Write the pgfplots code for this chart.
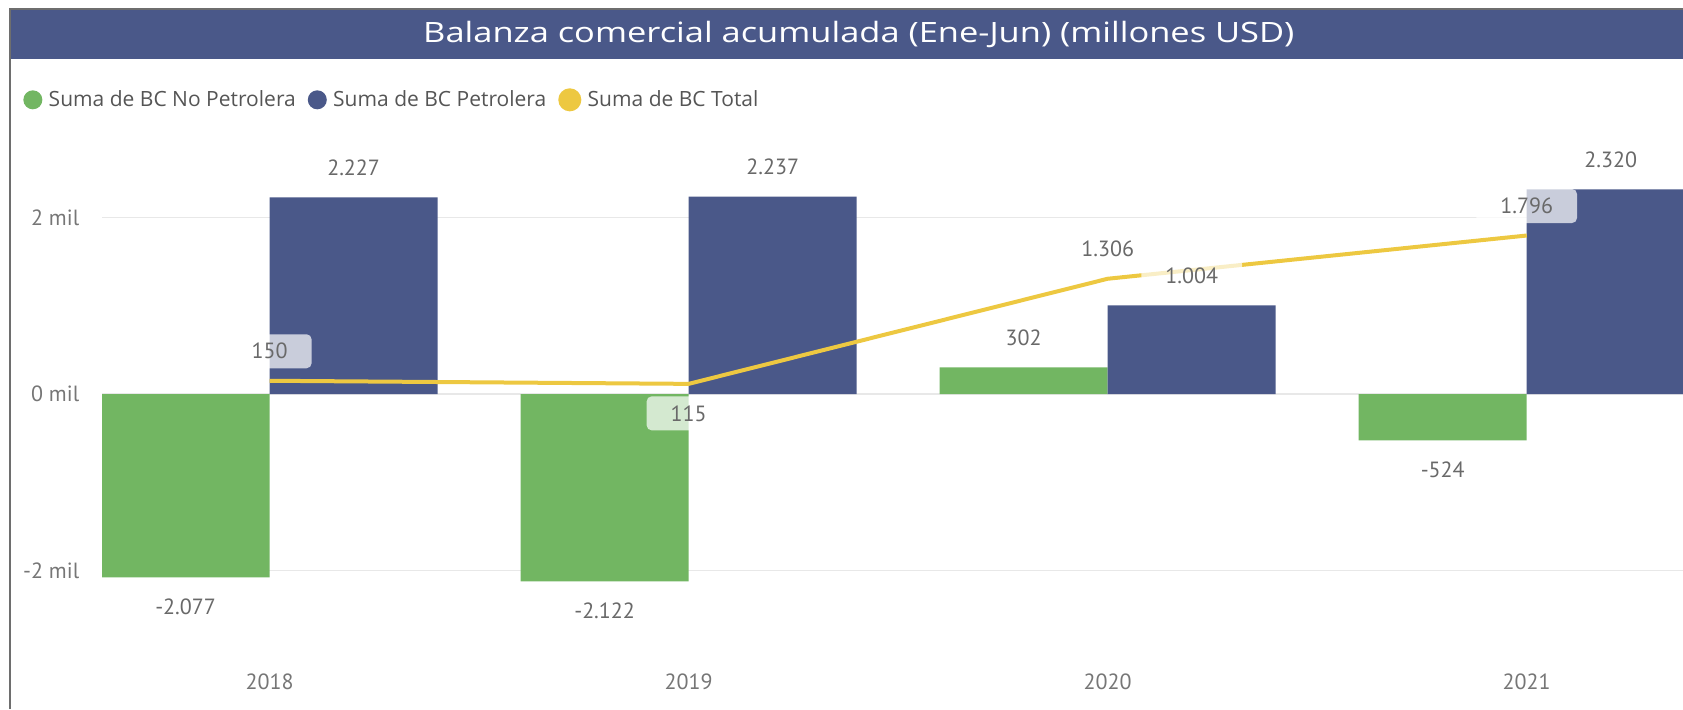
\documentclass[border=0pt]{standalone}
\usepackage{pgfplots}
\pgfplotsset{compat=1.18}
\usepackage{pgfplotstable}
\usepackage{fontspec}
\setmainfont{Open Sans}
\newfontfamily\titlefont{Open Sans}[FakeStretch=1.23]
\newfontfamily\numfont{PT Sans}

\definecolor{greenc}{RGB}{114,182,98}
\definecolor{bluec}{RGB}{74,88,137}
\definecolor{yellowc}{RGB}{237,200,65}
\definecolor{labgray}{RGB}{105,105,105}
\definecolor{ticgray}{RGB}{118,118,118}
\definecolor{leggray}{RGB}{85,85,85}
\definecolor{gridc}{RGB}{232,232,232}
\definecolor{framec}{RGB}{110,110,110}

% values in millones USD; off* = label offset (pt) from bar end / point
\pgfplotstableread{
x nopet pet total offno offpet offtot
0 -2077 2227 150 -14.75 14.75 14.75
1 -2122 2237 115 -14.75 14.75 -14.75
2 302 1004 1306 14.75 14.75 14.75
3 -524 2320 1796 -14.75 14.75 14.75
}\bcdata

\tikzset{lab/.style={anchor=center, yshift=\off, fill=white, fill opacity=0.7, text opacity=1,
  text=labgray, rounded corners=2.5pt, inner xsep=12pt, inner ysep=0pt, minimum height=17pt,
  font=\numfont\fontsize{11}{13}\selectfont}}

\begin{document}
\begin{tikzpicture}
\path[use as bounding box] (0,0) rectangle (841.5pt,354.5pt);
\fill[bluec] (5.5pt,324.8pt) rectangle (841.5pt,349.5pt);
\draw[framec, line width=1pt] (4.75pt,0pt) -- (4.75pt,349.8pt) -- (841.5pt,349.8pt);
\node[anchor=base, text=white, font=\titlefont\fontsize{14}{17}\selectfont, inner sep=0pt]
  at (429.4pt,333.35pt) {Balanza comercial acumulada (Ene-Jun) (millones USD)};
\begin{axis}[
  at={(51pt,25.125pt)}, anchor=south west,
  scale only axis, width=790.5pt, height=264.75pt,
  xmin=-0.4, xmax=3.373, ymin=-3000, ymax=3000,
  axis line style={draw=none}, tick style={draw=none},
  ytick={-2000,0,2000}, yticklabels={-2 mil,0 mil,2 mil},
  xtick={0,1,2,3}, xticklabels={2018,2019,2020,2021},
  ymajorgrids, grid style={gridc, line width=0.85pt},
  yticklabel style={anchor=east, inner sep=0pt, xshift=-11.2pt, font=\numfont\fontsize{11}{13}\selectfont, text=ticgray},
  xticklabel style={anchor=center, inner sep=0pt, yshift=-11.6pt, font=\numfont\fontsize{11}{13}\selectfont, text=ticgray},
  legend columns=3,
  legend style={at={(-0.05,1.0556)}, anchor=west, draw=none, fill=none, inner sep=0pt,
    font=\fontsize{10.5}{12}\selectfont, text=leggray,
    /tikz/every odd column/.append style={column sep=1.2pt},
    /tikz/every even column/.append style={column sep=4pt}},
  /pgf/number format/fixed, /pgf/number format/precision=0,
  /pgf/number format/1000 sep={.}, /pgf/number format/assume math mode=true,
]
\addplot[ybar, bar width=84pt, bar shift=-42pt, fill=greenc, draw=none,
  legend image code/.code={\fill[greenc] (4.75pt,0pt) circle (4.75pt);}]
  table[x=x, y=nopet] {\bcdata};
\addlegendentry{Suma de BC No Petrolera}
\addplot[ybar, bar width=84pt, bar shift=42pt, fill=bluec, draw=none,
  legend image code/.code={\fill[bluec] (4.75pt,0pt) circle (4.75pt);}]
  table[x=x, y=pet] {\bcdata};
\addlegendentry{Suma de BC Petrolera}
\addplot[yellowc, line width=2pt, line join=round, mark=none,
  legend image code/.code={\fill[yellowc] (4.75pt,0pt) circle (4.75pt);}]
  table[x=x, y=total] {\bcdata};
\addlegendentry{Suma de BC Total}

% data labels
\addplot[forget plot, only marks, mark=none, nodes near coords,
  visualization depends on={\thisrow{offno} \as \off},
  every node near coord/.append style={lab}]
  table[x expr=\thisrow{x}-0.2005, y=nopet] {\bcdata};
\addplot[forget plot, only marks, mark=none, nodes near coords,
  visualization depends on={\thisrow{offpet} \as \off},
  every node near coord/.append style={lab}]
  table[x expr=\thisrow{x}+0.2005, y=pet] {\bcdata};
\addplot[forget plot, only marks, mark=none, nodes near coords,
  visualization depends on={\thisrow{offtot} \as \off},
  every node near coord/.append style={lab}]
  table[x=x, y=total] {\bcdata};
\end{axis}
\end{tikzpicture}
\end{document}
